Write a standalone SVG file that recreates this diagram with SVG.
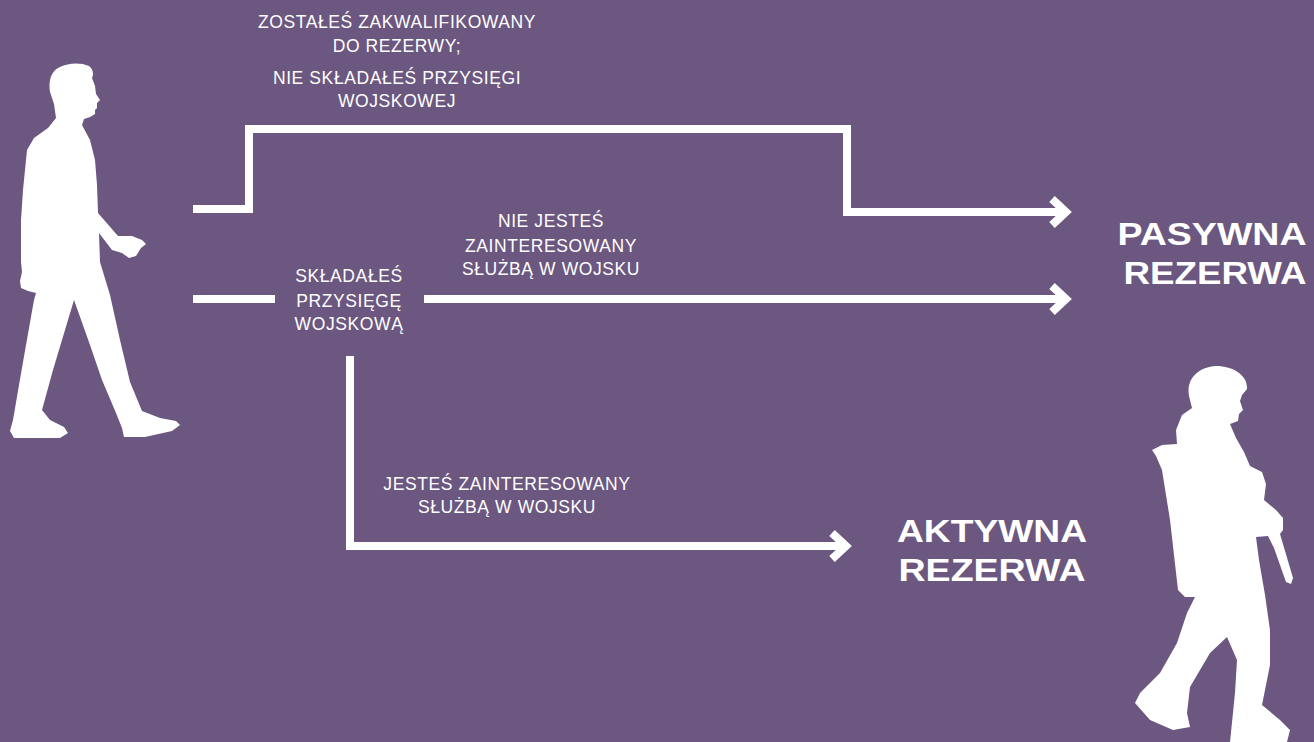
<svg xmlns="http://www.w3.org/2000/svg" width="1314" height="742" viewBox="0 0 1314 742">
<defs>
<style>
.lbl{font-family:"Liberation Sans",Arial,sans-serif;font-size:17.5px;letter-spacing:0.6px;fill:#ffffff;text-anchor:middle}
.ttl{font-family:"Liberation Sans",Arial,sans-serif;font-size:32px;font-weight:bold;fill:#ffffff;text-anchor:middle}
.conn{fill:none;stroke:#ffffff;stroke-width:8;stroke-linejoin:miter}
.sil{fill:#ffffff}
</style>
<marker id="chev" markerUnits="userSpaceOnUse" viewBox="-10 -20 40 40" markerWidth="40" markerHeight="40" refX="14" refY="0" orient="auto" overflow="visible">
<path d="M0,-13 L14,0 L0,13" fill="none" stroke="#ffffff" stroke-width="8" stroke-linejoin="miter"/>
</marker>
</defs>
<rect x="0" y="0" width="1314" height="742" fill="#6b5780"/>

<g id="connectors">
<path class="conn" d="M193,209 H249 V129 H847 V212 H1066" marker-end="url(#chev)"/>
<path class="conn" d="M193,299 H275"/>
<path class="conn" d="M424,299 H1066" marker-end="url(#chev)"/>
<path class="conn" d="M350,356 V546 H846" marker-end="url(#chev)"/>
</g>

<g id="civilian">
<path class="sil" d="M50,92 C48,80 52,70 60,67 C68,63 80,62 89,66 C93,69 94,74 92,78 L95,86 L96,94 L100,100 L97,103 L97,108 L95,110 L95,114 L90,117 L84,119 L82,125 L90,140 L95,160 L97,185 L98,213 L118,236 L132,236 L142,240 L146,244 L141,248 L136,256 L129,258 L122,253 L112,250 L99,233 L100,262 L110,295 L120,340 L130,382 L142,411 L160,418 L176,421 L180,425 L172,431 L145,437 L124,437 L122,428 L116,413 L102,380 L90,345 L74,300 L65,330 L53,370 L42,410 L50,420 L64,427 L68,433 L60,438 L14,438 L10,431 L13,420 L19,385 L26,345 L34,300 L36,293 L28,291 L21,288 L20,281 L22,272 L21,262 L21,220 L23,190 L27,150 L34,138 L48,128 L56,118 L54,104 Z"/>
</g>

<g id="soldier">
<path class="sil" d="M1189,396 C1186,379 1198,367 1216,366 C1234,366 1248,376 1247,389 L1242,395 L1240,401 L1243,410 L1239,414 L1238,421 L1230,424 L1236,438 L1244,452 L1250,466 L1262,472 L1266,484 L1264,500 L1276,510 L1283,518 L1283,530 L1280,534 L1293,578 L1291,584 L1286,582 L1274,548 L1268,536 L1256,537 L1259,560 L1265,595 L1270,630 L1270,665 L1262,705 L1280,720 L1290,730 L1287,742 L1230,742 L1235,693 L1237,660 L1227,637 L1210,653 L1190,687 L1187,713 L1190,727 L1173,730 L1150,720 L1135,703 L1140,693 L1160,673 L1177,643 L1187,613 L1195,597 L1185,597 L1178,590 L1170,520 L1162,470 L1156,456 L1152,450 L1162,445 L1177,444 L1176,430 L1182,415 L1192,408 Z"/>
</g>

<g id="label-top">
<text class="lbl" x="397" y="28">ZOSTAŁEŚ ZAKWALIFIKOWANY</text>
<text class="lbl" x="397" y="52">DO REZERWY;</text>
<text class="lbl" x="397" y="84">NIE SKŁADAŁEŚ PRZYSIĘGI</text>
<text class="lbl" x="397" y="107">WOJSKOWEJ</text>
</g>

<g id="label-oath">
<text class="lbl" x="349" y="282">SKŁADAŁEŚ</text>
<text class="lbl" x="349" y="307">PRZYSIĘGĘ</text>
<text class="lbl" x="349" y="330">WOJSKOWĄ</text>
</g>

<g id="label-not-interested">
<text class="lbl" x="551" y="227">NIE JESTEŚ</text>
<text class="lbl" x="551" y="252">ZAINTERESOWANY</text>
<text class="lbl" x="551" y="275">SŁUŻBĄ W WOJSKU</text>
</g>

<g id="label-interested">
<text class="lbl" x="507" y="490">JESTEŚ ZAINTERESOWANY</text>
<text class="lbl" x="507" y="513">SŁUŻBĄ W WOJSKU</text>
</g>

<g id="node-pasywna">
<text class="ttl" x="1212" y="245" textLength="189" lengthAdjust="spacingAndGlyphs">PASYWNA</text>
<text class="ttl" x="1215" y="284" textLength="183" lengthAdjust="spacingAndGlyphs">REZERWA</text>
</g>

<g id="node-aktywna">
<text class="ttl" x="992" y="542" textLength="190" lengthAdjust="spacingAndGlyphs">AKTYWNA</text>
<text class="ttl" x="992" y="581" textLength="187" lengthAdjust="spacingAndGlyphs">REZERWA</text>
</g>
</svg>
